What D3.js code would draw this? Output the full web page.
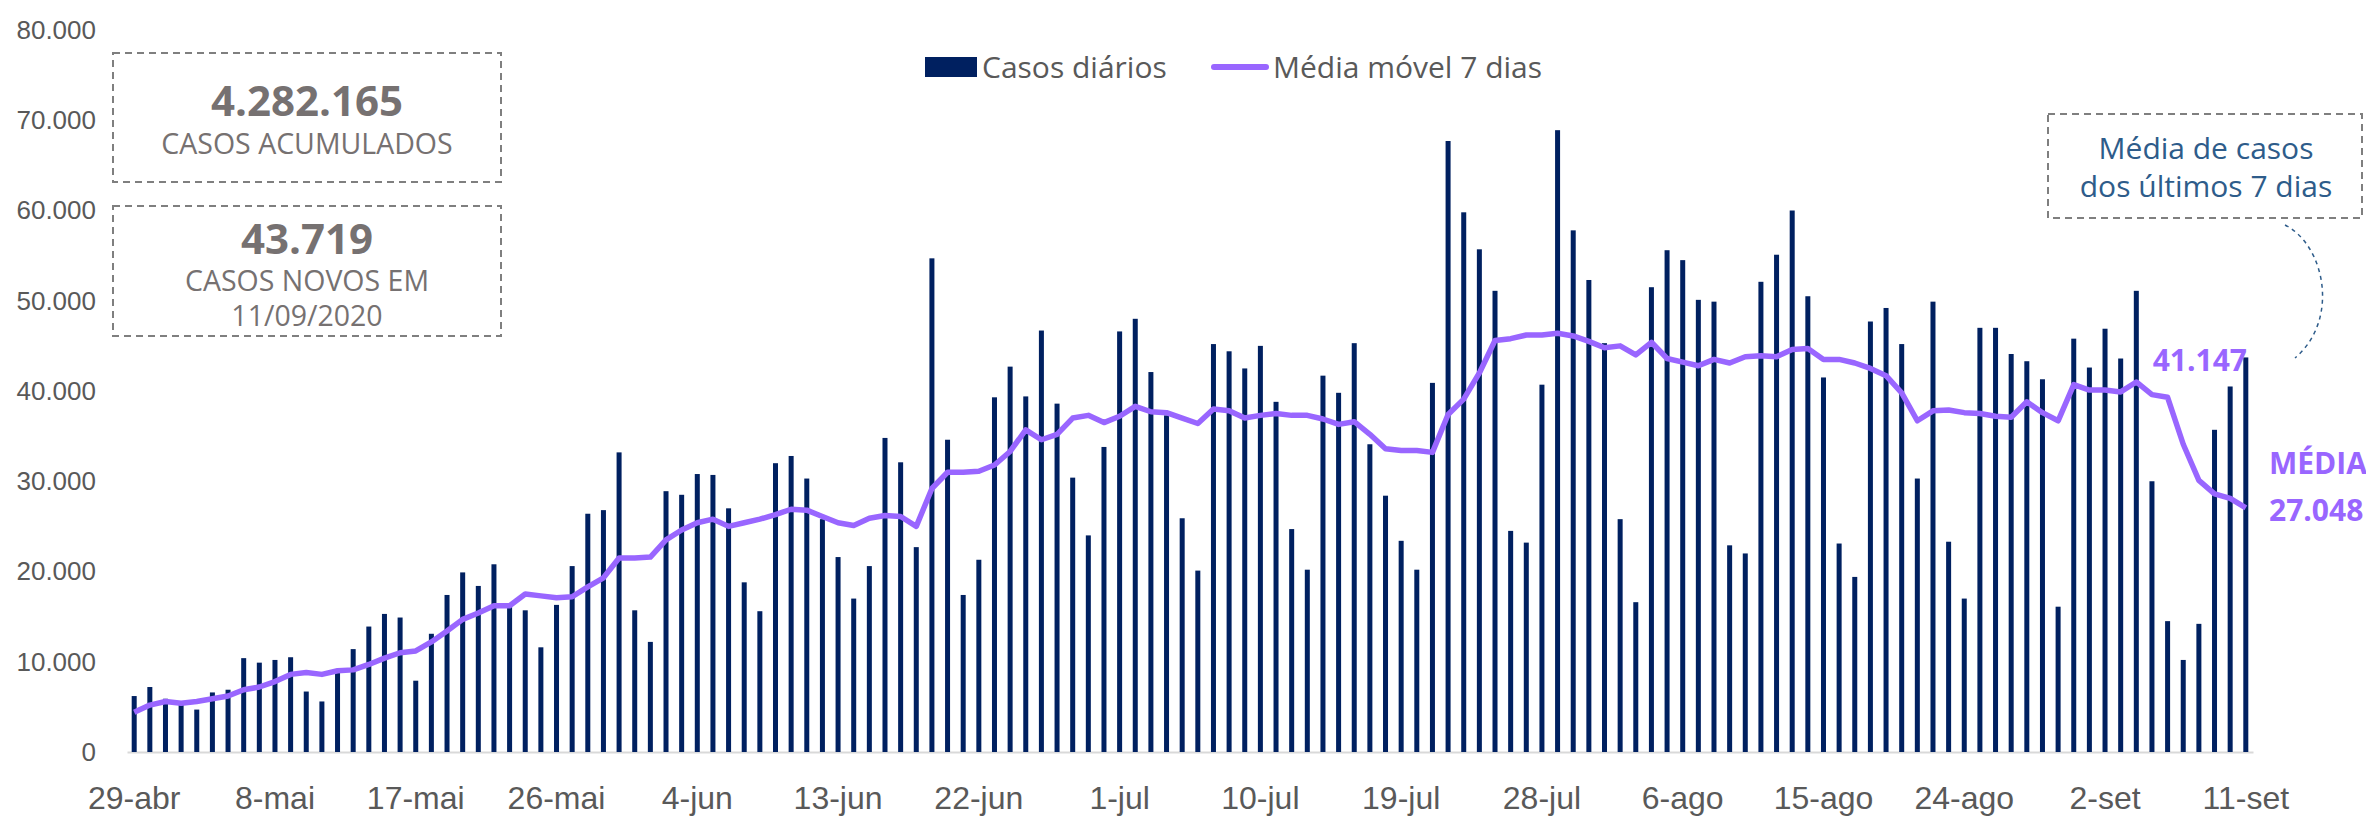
<!DOCTYPE html>
<html>
<head>
<meta charset="utf-8">
<script src="https://cdn.jsdelivr.net/npm/d3@7"></script>
<style>
  body { margin: 0; background: #fff; }
  svg { display: block; font-family: "Open Sans", "Noto Sans", sans-serif; }
</style>
</head>
<body>
<div id="chart-container"></div>
<script>
// daily cases, 29-abr .. 11-set (2020)
const casosDiarios = [
  6200, 7200, 5900, 5300, 4700, 6600, 6900, 10400, 9900, 10200,
  10500, 6700, 5600, 8900, 11400, 13900, 15300, 14900, 7900, 13100,
  17400, 19900, 18400, 20800, 16100, 15700, 11600, 16300, 20600, 26400,
  26800, 33200, 15700, 12200, 28900, 28500, 30800, 30700, 27000, 18800,
  15600, 32000, 32800, 30300, 25800, 21600, 17000, 20600, 34800, 32100,
  22700, 54700, 34600, 17400, 21300, 39300, 42700, 39400, 46700, 38600,
  30400, 24000, 33800, 46600, 48000, 42100, 37300, 25900, 20100, 45200,
  44400, 42500, 45000, 38800, 24700, 20200, 41700, 39800, 45300, 34100,
  28400, 23400, 20200, 40900, 67700, 59800, 55700, 51100, 24500, 23200,
  40700, 68900, 57800, 52300, 45300, 25800, 16600, 51500, 55600, 54500,
  50100, 49900, 22900, 22000, 52100, 55100, 60000, 50500, 41500, 23100,
  19400, 47700, 49200, 45200, 30300, 49900, 23300, 17000, 47000, 47000,
  44100, 43300, 41300, 16100, 45800, 42600, 46900, 43600, 51100, 30000,
  14500, 10200, 14200, 35700, 40500, 43719
]

// media movel 7 dias
const mediaMovel = [
  4400, 5200, 5600, 5400, 5600, 5900, 6200, 6900, 7200, 7800,
  8600, 8800, 8600, 9000, 9100, 9700, 10400, 11000, 11200, 12200,
  13400, 14700, 15400, 16200, 16200, 17500, 17300, 17100, 17200, 18300,
  19300, 21500, 21500, 21600, 23500, 24600, 25400, 25800, 25000, 25400,
  25800, 26300, 26900, 26800, 26100, 25400, 25100, 25900, 26200, 26100,
  25000, 29200, 31000, 31000, 31100, 31800, 33300, 35700, 34600, 35200,
  37000, 37300, 36500, 37200, 38300, 37700, 37600, 37000, 36400, 38000,
  37800, 37000, 37300, 37500, 37300, 37300, 36900, 36300, 36600, 35200,
  33600, 33400, 33400, 33200, 37400, 39100, 42000, 45600, 45800, 46200,
  46200, 46400, 46100, 45500, 44800, 45000, 44000, 45400, 43600, 43200,
  42800, 43500, 43100, 43800, 43900, 43800, 44600, 44700, 43500, 43500,
  43100, 42500, 41700, 39800, 36700, 37800, 37900, 37600, 37500, 37200,
  37100, 38800, 37600, 36700, 40700, 40100, 40100, 39900, 41000, 39600,
  39300, 34100, 30100, 28600, 28100, 27048
]

const tickLabels = ["29-abr", "8-mai", "17-mai", "26-mai", "4-jun", "13-jun", "22-jun", "1-jul",
  "10-jul", "19-jul", "28-jul", "6-ago", "15-ago", "24-ago", "2-set", "11-set"]
const yTicks = [0, 10000, 20000, 30000, 40000, 50000, 60000, 70000, 80000]
const meses = ["jan", "fev", "mar", "abr", "mai", "jun", "jul", "ago", "set", "out", "nov", "dez"]

const dias = d3.timeDay.range(new Date(2020, 3, 29), new Date(2020, 8, 12))
    .map(d => `${d.getDate()}-${meses[d.getMonth()]}`)

const W = 2366, H = 817
const navy = "#002060", purple = "#9966ff", grey = "#595959", boxGrey = "#767171", noteBlue = "#2e5c8a"

const pt = d3.formatLocale({decimal: ",", thousands: ".", grouping: [3], currency: ["R$", ""]})
const fmt = pt.format(",d")

const svg = d3.select("#chart-container")
    .append("svg")
        .attr("width", W)
        .attr("height", H)

const x = d3.scaleBand()
    .domain(dias)
    .range([127, 2253])
    .paddingInner(0.68)
    .paddingOuter(0.3)

const y = d3.scaleLinear()
    .domain([0, 80000])
    .range([752, 30])

// y axis (labels only)
svg.append("g")
    .attr("transform", "translate(96,0)")
    .call(d3.axisLeft(y).tickValues(yTicks).tickFormat(fmt).tickSize(0).tickPadding(0))
    .call(g => g.select(".domain").remove())
    .selectAll("text")
        .attr("fill", grey)
        .style("font-size", "26px")

// x axis
svg.append("g")
    .attr("transform", "translate(0,752)")
    .call(d3.axisBottom(x).tickValues(tickLabels).tickSize(0).tickSizeOuter(0).tickPadding(34))
    .call(g => g.select(".domain").attr("stroke", "#d9d9d9").attr("stroke-width", 2))
    .selectAll("text")
        .attr("fill", grey)
        .style("font-size", "32px")

// bars
svg.append("g")
    .selectAll("rect")
    .data(casosDiarios)
    .join("rect")
        .attr("x", (d, i) => x(dias[i]))
        .attr("y", d => y(d))
        .attr("width", x.bandwidth())
        .attr("height", d => y(0) - y(d))
        .attr("fill", navy)

// 7 day average
const line = d3.line()
    .x((d, i) => x(dias[i]) + x.bandwidth() / 2)
    .y(d => y(d))

svg.append("path")
    .datum(mediaMovel)
    .attr("fill", "none")
    .attr("stroke", purple)
    .attr("stroke-width", 5.5)
    .attr("stroke-linejoin", "round")
    .attr("d", line)

// legend
const legend = svg.append("g").style("font-size", "30px").attr("fill", grey)
legend.append("rect").attr("x", 925).attr("y", 57).attr("width", 52).attr("height", 20).attr("fill", navy)
legend.append("text").attr("x", 982).attr("y", 78).text("Casos diários")
legend.append("line").attr("x1", 1214).attr("x2", 1266).attr("y1", 67).attr("y2", 67)
    .attr("stroke", purple).attr("stroke-width", 6).attr("stroke-linecap", "round")
legend.append("text").attr("x", 1273).attr("y", 78).text("Média móvel 7 dias")

// info boxes
function infoBox(top, bottom, lines) {
    svg.append("rect")
        .attr("x", 113).attr("y", top)
        .attr("width", 388).attr("height", bottom - top)
        .attr("fill", "none")
        .attr("stroke", "#7f7f7f")
        .attr("stroke-width", 2)
        .attr("stroke-dasharray", "7,5")
    lines.forEach(l => {
        svg.append("text")
            .attr("x", 307).attr("y", l.y)
            .attr("text-anchor", "middle")
            .attr("fill", boxGrey)
            .style("font-size", l.size + "px")
            .style("font-weight", l.bold ? "bold" : "normal")
            .text(l.t)
    })
}
infoBox(53, 182, [
    {t: "4.282.165", y: 116, size: 42, bold: true},
    {t: "CASOS ACUMULADOS", y: 154, size: 28.5}
])
infoBox(206, 336, [
    {t: "43.719", y: 254, size: 42, bold: true},
    {t: "CASOS NOVOS EM", y: 291, size: 28.5},
    {t: "11/09/2020", y: 326, size: 28.5}
])

// note at the right
svg.append("rect")
    .attr("x", 2048).attr("y", 114)
    .attr("width", 314).attr("height", 104)
    .attr("fill", "none")
    .attr("stroke", "#7f7f7f")
    .attr("stroke-width", 2)
    .attr("stroke-dasharray", "7,5")
svg.append("text").attr("x", 2206).attr("y", 159).attr("text-anchor", "middle")
    .attr("fill", noteBlue).style("font-size", "30px").text("Média de casos")
svg.append("text").attr("x", 2206).attr("y", 197).attr("text-anchor", "middle")
    .attr("fill", noteBlue).style("font-size", "30px").text("dos últimos 7 dias")
svg.append("path")
    .attr("d", "M2285,225 C2325,245 2340,320 2295,358")
    .attr("fill", "none")
    .attr("stroke", noteBlue)
    .attr("stroke-width", 1.5)
    .attr("stroke-dasharray", "4,4")

svg.append("text").attr("x", 2247).attr("y", 371).attr("text-anchor", "end")
    .attr("fill", purple).style("font-size", "30px").style("font-weight", "bold").text("41.147")
svg.append("text").attr("x", 2269).attr("y", 474)
    .attr("fill", purple).style("font-size", "30px").style("font-weight", "bold").text("MÉDIA")
svg.append("text").attr("x", 2269).attr("y", 521)
    .attr("fill", purple).style("font-size", "30px").style("font-weight", "bold").text(fmt(mediaMovel[mediaMovel.length - 1]))
</script>
</body>
</html>
